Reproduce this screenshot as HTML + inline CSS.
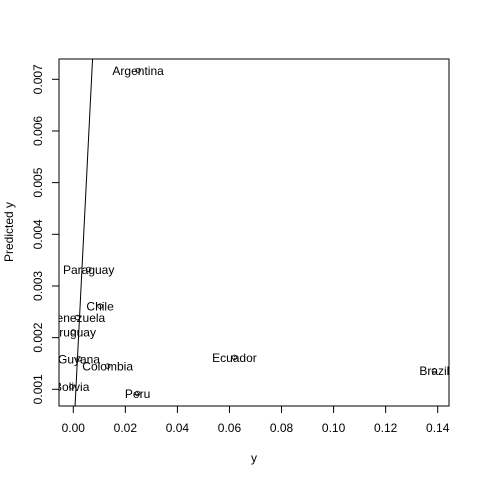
<!DOCTYPE html>
<html><head><meta charset="utf-8"><style>
html,body{margin:0;padding:0;background:#fff;width:480px;height:480px;overflow:hidden}
svg{display:block;overflow:hidden}
svg text{font-family:"Liberation Sans",Arial,sans-serif;fill:#000}
</style></head><body>
<svg width="480" height="480" viewBox="0 0 480 480">
<defs><clipPath id="pc"><rect x="59" y="59" width="390" height="347"/></clipPath></defs>
<g id="plot" clip-path="url(#pc)"></g>
<rect x="59" y="59" width="390" height="347" fill="none" stroke="#000"/>
<g id="axes"></g>
<text x="254" y="462" font-size="12" text-anchor="middle">y</text>
<text transform="translate(13,232) rotate(-90)" font-size="12" text-anchor="middle">Predicted y</text>
</svg>
<script>
const countries=["Argentina","Paraguay","Chile","Venezuela","Uruguay","Guyana","Colombia","Ecuador","Brazil","Bolivia","Peru"];
const actual=[0.0249,0.0059,0.0103,0.0015,0.0000,0.0022,0.0132,0.0619,0.1387,-0.0006,0.0247];
const predicted=[0.00717,0.00332,0.00261,0.00239,0.00211,0.00159,0.00145,0.00162,0.00136,0.00105,0.00092];
const xTicks=[0,0.02,0.04,0.06,0.08,0.10,0.12,0.14];
const xTickLabels=["0.00","0.02","0.04","0.06","0.08","0.10","0.12","0.14"];
const yTicks=[0.001,0.002,0.003,0.004,0.005,0.006,0.007];
const yTickLabels=["0.001","0.002","0.003","0.004","0.005","0.006","0.007"];
const NS="http://www.w3.org/2000/svg";
const X=v=>73.3+v*2603;
const Y=v=>389.3-(v-0.001)*51667;
const plot=document.getElementById('plot'),axes=document.getElementById('axes');
function mk(tag,attrs,parent,txt){const e=document.createElementNS(NS,tag);for(const k in attrs)e.setAttribute(k,attrs[k]);if(txt!==undefined)e.textContent=txt;parent.appendChild(e);return e;}
const ln=mk('line',{x1:X(0.0006),y1:Y(0.0006),x2:X(0.0074),y2:Y(0.0074),stroke:'#000','stroke-width':1},plot);


countries.forEach((c,i)=>{
  const pt=mk('circle',{cx:X(actual[i]),cy:Y(predicted[i]),r:2.3,fill:'none',stroke:'#000','stroke-width':0.8},plot);
  
  
  const t=mk('text',{x:X(actual[i]),y:Y(predicted[i])+4.5,'font-size':12,'text-anchor':'middle'},plot,c);
  
  
});
const xa=mk('line',{x1:X(xTicks[0]),y1:406,x2:X(xTicks[xTicks.length-1]),y2:406,stroke:'#000'},axes);


xTicks.forEach((v,i)=>{
  const tk=mk('line',{x1:X(v),y1:406,x2:X(v),y2:413,stroke:'#000'},axes);
  
  
  const t=mk('text',{x:X(v),y:432,'font-size':12,'text-anchor':'middle'},axes,xTickLabels[i]);
  
  
});
const ya=mk('line',{x1:59,y1:Y(yTicks[0]),x2:59,y2:Y(yTicks[yTicks.length-1]),stroke:'#000'},axes);


yTicks.forEach((v,i)=>{
  const tk=mk('line',{x1:52,y1:Y(v),x2:59,y2:Y(v),stroke:'#000'},axes);
  
  
  const t=mk('text',{transform:`translate(42,${Y(v)}) rotate(-90)`,'font-size':12,'text-anchor':'middle'},axes,yTickLabels[i]);
  
  
});
</script>
</body></html>
